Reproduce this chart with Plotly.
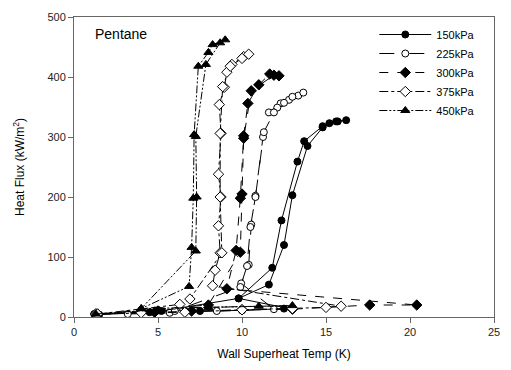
import plotly.graph_objects as go

# 150 kPa
x150 = [1.2, 1.5, 4.5, 5.0, 7.5, 10.0, 12.5, 13.0, 9.8, 11.6, 12.5, 13.0, 13.9, 14.8, 15.2, 15.7, 16.2,
        15.6, 14.8, 13.7, 13.3, 12.35, 11.8, 9.8, 5.2, 1.3]
y150 = [5, 4, 8, 11, 10, 11, 14, 13, 31, 54, 120, 203, 285, 316, 323, 326, 328,
        326, 318, 293, 259, 161, 82, 31, 10, 5]
# 225 kPa
x225 = [1.3, 3.2, 5.7, 8.5, 11.9, 9.95, 10.4, 10.55, 10.8, 11.25, 11.6, 12.3, 12.8, 13.35, 13.65,
        13.0, 12.5, 12.1, 11.9, 11.3, 10.8, 10.5, 10.3, 9.9, 6.0, 1.4]
y225 = [5, 5, 7, 10, 13, 56, 87, 154, 202, 300, 341, 356, 362, 369, 374,
        367, 357, 349, 341, 308, 200, 150, 85, 50, 10, 5]
# 300 kPa
x300 = [1.3, 4.8, 7.0, 10.0, 13.0, 17.6, 20.4, 9.1, 9.65, 9.9, 10.1, 10.35, 11.0, 11.65, 12.2,
        11.9, 10.55, 10.1, 10.0, 9.9, 8.0, 1.4]
y300 = [5, 8, 10, 12, 13, 20, 20, 47, 111, 198, 302, 356, 387, 405, 402,
        403, 377, 298, 205, 108, 20, 5]
# 375 kPa
x375 = [1.3, 4.0, 6.6, 10.0, 13.0, 15.0, 15.9, 8.25, 8.4, 8.7, 8.6, 8.75, 8.6, 8.75, 8.65, 8.95, 9.1,
        9.4, 10.1, 10.4, 10.0, 9.3, 8.85, 8.7, 8.7, 8.8, 6.9, 6.3, 1.4]
y375 = [5, 7, 8, 12, 14, 16, 18, 52, 78, 107, 152, 200, 238, 306, 354, 383, 408,
        421, 434, 438, 431, 418, 384, 306, 200, 107, 30, 21, 5]
# 450 kPa
x450 = [1.3, 5.0, 8.0, 11.0, 13.0, 4.0, 6.85, 7.0, 7.1, 7.15, 7.4, 8.0, 8.25, 9.0,
        8.7, 7.85, 7.25, 7.3, 7.25, 4.0]
y450 = [5, 12, 16, 18, 19, 14, 51, 116, 198, 304, 418, 441, 454, 462,
        457, 421, 301, 200, 110, 14]

fig = go.Figure()
series = [
    ("150kPa", x150, y150, "solid", "circle", "black", 7),
    ("225kPa", x225, y225, "longdash", "circle", "white", 7),
    ("300kPa", x300, y300, "dash", "diamond", "black", 8),
    ("375kPa", x375, y375, "dashdot", "diamond", "white", 8),
    ("450kPa", x450, y450, "8px,2px,2px,2px,2px,2px", "triangle-up", "black", 8),
]
for name, xs, ys, dash, sym, fill, sz in series:
    fig.add_trace(go.Scatter(
        x=xs, y=ys, name=name, mode="lines+markers",
        line=dict(color="black", width=1, dash=dash),
        marker=dict(symbol=sym, size=sz, color=fill,
                    line=dict(color="black", width=1)),
    ))

fig.add_annotation(x=0.045, y=0.945, xref="paper", yref="paper", text="Pentane",
                   showarrow=False, xanchor="left", yanchor="middle",
                   font=dict(family="Liberation Sans, Arial", size=14, color="black"))

axis_common = dict(showline=True, linecolor="#666", linewidth=1, mirror=True,
                   ticks="outside", ticklen=5, tickcolor="#666", showgrid=False, zeroline=False,
                   tickfont=dict(family="Liberation Sans, Arial", size=11, color="#222"))
fig.update_xaxes(range=[0, 25], dtick=5, title=dict(text="Wall Superheat Temp (K)",
                 font=dict(family="Liberation Sans, Arial", size=12, color="black"), standoff=12),
                 **axis_common)
fig.update_yaxes(range=[0, 500], dtick=100, title=dict(text="Heat Flux (kW/m<sup>2</sup>)",
                 font=dict(family="Liberation Sans, Arial", size=12, color="black"), standoff=20),
                 **axis_common)

fig.update_layout(
    width=511, height=370, margin=dict(l=74, r=11, t=13, b=53),
    plot_bgcolor="white", paper_bgcolor="white",
    legend=dict(x=0.715, y=0.99, xanchor="left", yanchor="top", bgcolor="rgba(0,0,0,0)",
                font=dict(family="Liberation Sans, Arial", size=11, color="black"),
                tracegroupgap=0, itemwidth=52),
)
fig.write_html("out.html")
